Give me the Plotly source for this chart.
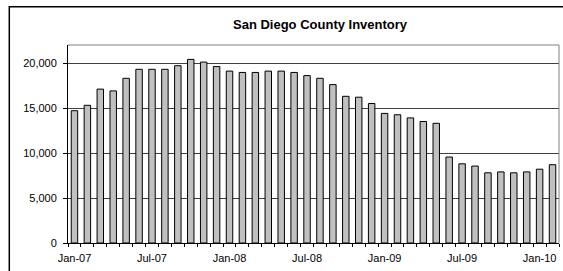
import plotly.graph_objects as go

months = ["Jan-07","Feb-07","Mar-07","Apr-07","May-07","Jun-07","Jul-07","Aug-07","Sep-07","Oct-07","Nov-07","Dec-07",
          "Jan-08","Feb-08","Mar-08","Apr-08","May-08","Jun-08","Jul-08","Aug-08","Sep-08","Oct-08","Nov-08","Dec-08",
          "Jan-09","Feb-09","Mar-09","Apr-09","May-09","Jun-09","Jul-09","Aug-09","Sep-09","Oct-09","Nov-09","Dec-09",
          "Jan-10","Feb-10"]
inventory = [14700, 15300, 17100, 16900, 18300, 19300, 19300, 19300, 19700, 20400, 20100, 19600,
             19100, 18950, 18950, 19100, 19100, 18950, 18600, 18300, 17600, 16300, 16200, 15500,
             14400, 14250, 13900, 13500, 13300, 9550, 8800, 8550, 7800, 7900, 7800, 7900,
             8200, 8700]
tick_labels = [m if m.startswith(("Jan", "Jul")) else "" for m in months]
y_ticks = [0, 5000, 10000, 15000, 20000]
title = "San Diego County Inventory"

FONT = "Arial, 'Liberation Sans', sans-serif"

fig = go.Figure(go.Bar(
    x=months, y=inventory,
    marker=dict(color="#C0C0C0", line=dict(color="black", width=1)),
))

L, R, T, B = 68, 4, 45, 28
W, H = 563, 271
pw, ph = W - L - R, H - T - B

fig.update_layout(
    width=W, height=H,
    margin=dict(l=L, r=R, t=T, b=B, pad=0),
    paper_bgcolor="white", plot_bgcolor="white",
    bargap=0.5,
    showlegend=False,
    font=dict(family=FONT, size=11, color="black"),
    title=dict(text="<b>" + title + "</b>", x=(289) / W, xanchor="center",
               y=1 - 24 / H, yanchor="middle", xref="paper",
               font=dict(family=FONT, size=13, color="black")),
    xaxis=dict(
        type="category",
        tickmode="array", tickvals=months, ticktext=tick_labels,
        tickson="boundaries",
        ticks="outside", ticklen=3, tickcolor="black", tickwidth=1,
        ticklabelstandoff=5,
        showline=True, linecolor="black", linewidth=1,
        showgrid=False, tickangle=0,
        tickfont=dict(family=FONT, size=11, color="black"),
    ),
    yaxis=dict(
        range=[0, 22000],
        tickmode="array", tickvals=y_ticks,
        tickformat=",d",
        ticks="outside", ticklen=4, tickcolor="black", tickwidth=1,
        ticklabelstandoff=4,
        showline=True, linecolor="black", linewidth=1,
        showgrid=True, gridcolor="#404040", gridwidth=1,
        zeroline=False,
        tickfont=dict(family=FONT, size=11, color="black"),
    ),
)

# plot-area border (top & right, gray)
fig.add_shape(type="path", xref="paper", yref="paper",
              path="M 0 1 L 1 1 L 1 0",
              line=dict(color="#808080", width=1), layer="above")

# outer chart border (extends past the canvas on right/bottom)
x0 = (9.3 - L) / pw
y1 = 1 + (T - 6.7) / ph
fig.add_shape(type="rect", xref="paper", yref="paper",
              x0=x0, x1=1 + 12 / pw, y0=-60 / ph, y1=y1,
              line=dict(color="black", width=1.5), fillcolor="rgba(0,0,0,0)", layer="above")

fig.write_html("out.html", config={"displayModeBar": False},
               post_script="document.body.style.margin='0';document.body.style.overflow='hidden';")
